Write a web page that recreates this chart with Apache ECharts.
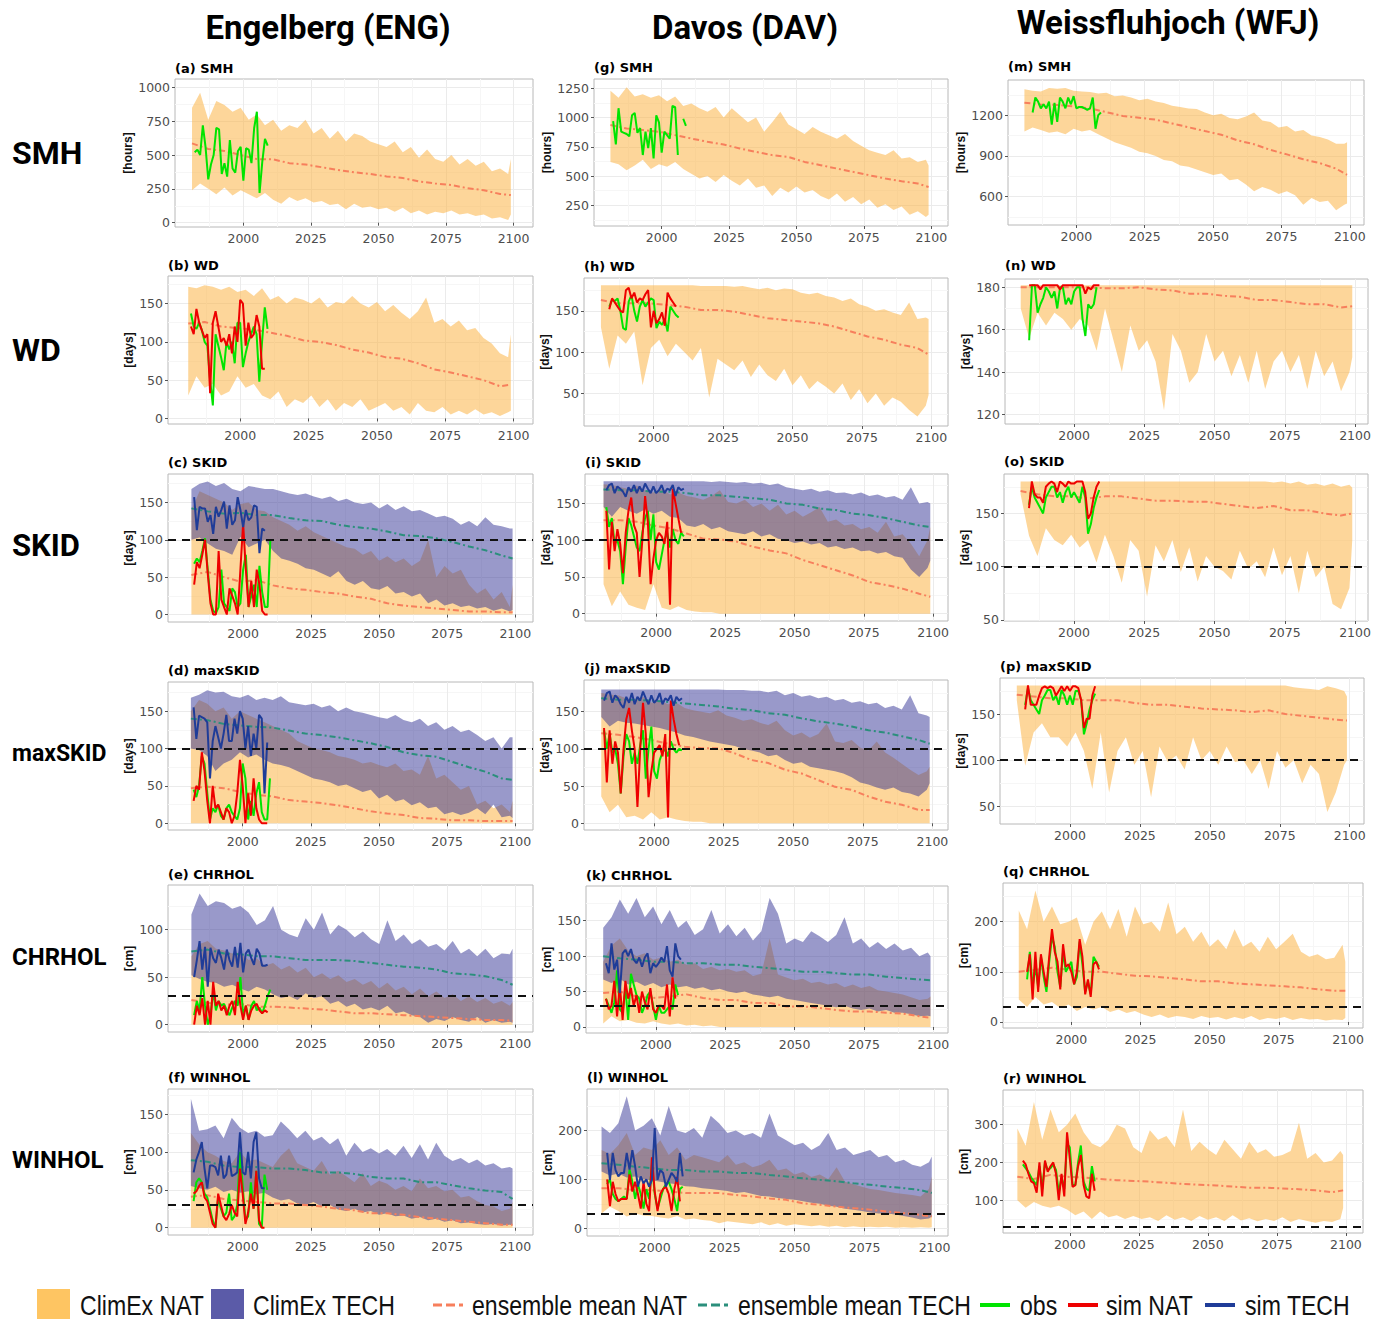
<!DOCTYPE html>
<html><head><meta charset="utf-8">
<script src="https://cdn.jsdelivr.net/npm/echarts@6/dist/echarts.min.js"></script>
<style>html,body{margin:0;padding:0;background:#fff;}#chart{width:1386px;height:1319px;}</style>
</head><body><div id="chart"></div>
<script>
// ---------- x positions (years) ----------
function yearRange(a, b, s) { const r = []; for (let y = a; y <= b; y += s) r.push(y); return r; }
const bandYears = yearRange(1981, 2098, 3).concat([2099]);   // 41 ensemble-range samples
const meanYears = yearRange(1981, 2095, 6).concat([2099]);   // 21 ensemble-mean samples
const obsStartYear = 1982;                                  // obs / sim series start
const xTickLabels = [2000, 2025, 2050, 2075, 2100];
const xMinorTicks = [1987.5, 2012.5, 2037.5, 2062.5, 2087.5];

const columnTitles = ['Engelberg (ENG)', 'Davos (DAV)', 'Weissfluhjoch (WFJ)'];
const rowLabels = ['SMH', 'WD', 'SKID', 'maxSKID', 'CHRHOL', 'WINHOL'];
const legendLabels = ['ClimEx NAT', 'ClimEx TECH', 'ensemble mean NAT', 'ensemble mean TECH', 'obs', 'sim NAT', 'sim TECH'];

// ---------- Engelberg ----------
const engSMH_natHi = [850,960,760,900,870,820,850,760,800,720,760,680,720,700,760,660,700,620,680,600,660,640,600,580,560,600,520,560,480,540,470,450,500,430,470,420,450,380,400,360,470];
const engSMH_natLo = [240,290,250,210,260,200,240,210,180,220,170,140,190,160,180,150,160,130,140,100,140,110,120,100,110,80,110,70,90,60,80,70,90,60,70,50,60,30,40,20,60];
const engSMH_natMean = [586,545,530,500,470,468,440,430,410,390,372,360,342,330,305,290,278,255,240,212,204];
const engSMH_obs = [520,540,500,720,560,320,430,500,700,690,360,440,340,610,400,370,530,560,310,550,540,440,700,820,220,450,620,570];

const engWD_natHi = [172,170,174,172,168,172,165,168,160,170,155,160,150,158,155,150,158,145,152,150,160,150,145,152,140,148,138,130,140,158,125,130,120,128,115,118,105,98,85,80,110];
const engWD_natLo = [30,55,40,45,30,35,55,40,45,30,25,35,15,25,20,30,15,25,10,20,15,25,10,15,20,10,15,5,20,10,8,15,5,10,5,12,5,8,3,8,10];
const engWD_natMean = [124,126,120,118,116,112,108,102,100,96,90,86,80,78,72,64,60,55,50,42,44];
const engWD_obs = [137,120,117,125,115,100,95,50,17,110,95,80,63,100,90,100,72,125,125,67,85,100,110,120,110,48,100,145,117];
const engWD_simNat = [120,110,143,125,115,105,110,33,125,140,120,100,105,95,110,85,120,100,155,150,95,125,105,110,135,120,65,65];

const engSKID_natHi = [140,165,160,155,150,140,148,150,140,138,130,125,120,112,118,110,105,100,95,90,88,80,85,72,78,70,75,65,72,100,50,65,55,60,40,28,35,20,30,10,40];
const engSKID_natLo = [0,0,0,0,0,0,0,0,0,0,0,0,0,0,0,0,0,0,0,0,0,0,0,0,0,0,0,0,0,0,0,0,0,0,0,0,0,0,0,0,0];
const engSKID_techHi = [168,175,178,172,176,168,165,172,170,168,168,165,162,160,162,158,155,158,152,155,150,148,150,142,148,140,145,138,140,135,130,132,128,120,125,118,130,120,118,115,115];
const engSKID_techLo = [100,103,95,88,85,80,104,90,95,100,85,75,72,68,62,60,55,50,58,45,40,45,35,33,38,28,30,24,28,15,20,12,15,10,12,8,10,5,8,4,6];
const engSKID_natMean = [53,57,50,44,46,39,35,33,30,28,24,21,15,12,10,8,6,4,4,3,3];
const engSKID_techMean = [142,138,135,136,133,133,129,126,125,120,117,115,111,106,105,102,97,91,86,79,75];
const engSKID_obs = [68,75,70,85,102,60,20,5,2,10,60,15,10,5,35,30,10,15,60,80,10,25,40,10,65,30,10,10,100];
const engSKID_simNat = [40,70,62,80,100,55,15,0,0,85,20,10,0,35,25,15,0,60,122,60,10,45,10,60,40,5,0,0];
const engSKID_simTech = [157,113,144,142,142,124,133,108,144,131,140,151,115,146,120,126,157,140,117,140,126,130,146,144,82,115,112];

const engMAX_natHi = [150,165,160,150,155,140,150,145,140,135,130,125,120,110,105,100,98,95,90,88,85,80,82,78,75,80,70,72,65,90,60,65,55,45,50,25,30,20,25,15,30];
const engMAX_natLo = [0,0,0,0,0,0,0,0,0,0,0,0,0,0,0,0,0,0,0,0,0,0,0,0,0,0,0,0,0,0,0,0,0,0,0,0,0,0,0,0,0];
const engMAX_techHi = [168,172,178,175,176,170,168,172,165,168,165,170,162,160,158,160,155,158,150,155,150,148,145,142,140,145,138,135,140,130,135,125,130,122,125,118,110,115,100,115,115];
const engMAX_techLo = [100,98,90,70,80,85,95,88,92,85,80,78,75,70,65,60,58,55,50,52,47,42,45,33,38,29,32,24,28,20,22,12,15,11,14,20,12,25,8,10,7];
const engMAX_natMean = [47,49,47,42,38,36,31,29,27,24,20,16,13,11,7,6,4,4,3,3,3];
const engMAX_techMean = [140,138,133,131,129,128,124,120,118,115,111,107,102,95,91,89,82,75,69,60,58];
const engMAX_obs = [45,35,50,90,80,40,5,20,15,25,10,5,20,25,15,10,5,20,80,60,5,30,10,40,55,15,5,5,60];
const engMAX_simNat = [30,50,45,95,70,30,0,50,20,25,15,5,20,15,0,10,40,85,50,0,40,10,60,20,5,0,0,0];
const engMAX_simTech = [155,113,144,142,140,135,60,110,130,115,100,120,145,110,110,140,120,150,140,100,130,90,120,100,145,140,40,108];

const engCHR_natHi = [72,85,88,80,78,75,76,68,70,62,65,58,62,55,60,50,54,48,52,45,48,42,46,38,44,36,40,32,38,30,35,28,32,25,30,24,28,22,25,20,24];
const engCHR_natLo = [0,0,0,0,0,0,0,0,0,0,0,0,0,0,0,0,0,0,0,0,0,0,0,0,0,0,0,0,0,0,0,0,0,0,0,0,0,0,0,0,0];
const engCHR_techHi = [116,138,125,130,128,122,125,118,105,110,125,100,95,92,112,100,118,95,105,100,92,98,90,85,110,88,95,85,90,82,85,78,88,75,80,72,80,70,75,74,80];
const engCHR_techLo = [52,48,45,44,40,42,38,35,40,37,32,28,30,26,33,28,30,22,25,19,22,16,18,15,20,12,14,10,8,2,6,4,8,5,3,8,2,5,2,3,2];
const engCHR_natMean = [26,23,21,22,19,19,18,17,16,14,12,12,11,10,9,8,7,6,5,5,4];
const engCHR_techMean = [77,79,75,74,72,72,70,68,68,68,67,65,63,61,60,58,54,53,51,47,42];
const engCHR_obs = [10,25,15,50,20,0,10,35,15,25,20,22,15,10,18,25,20,50,10,20,5,20,25,15,18,12,20,30,37];
const engCHR_simNat = [0,20,10,28,0,25,0,45,20,25,15,20,10,20,25,10,45,20,5,20,5,15,20,22,15,12,15,13];
const engCHR_simTech = [50,68,88,58,82,40,81,70,65,79,70,58,79,68,61,82,60,86,55,75,79,70,63,80,75,62,62,63];

const engWIN_natHi = [125,110,100,95,88,85,100,88,90,85,80,95,105,85,80,75,88,70,75,68,60,72,55,62,58,50,55,48,65,52,55,48,50,40,42,35,30,28,22,25,34];
const engWIN_natLo = [0,0,0,0,0,0,0,0,0,0,0,0,0,0,0,0,0,0,0,0,0,0,0,0,0,0,0,0,0,0,0,0,0,0,0,0,0,0,0,0,0];
const engWIN_techHi = [170,128,130,135,118,145,132,125,128,120,122,140,130,118,128,115,120,110,118,95,112,100,105,98,104,95,108,92,110,90,112,95,88,92,85,90,82,85,78,80,78];
const engWIN_techLo = [55,52,50,54,47,50,46,48,44,46,40,36,38,32,30,34,28,30,24,22,25,20,22,17,19,15,16,12,14,10,12,8,10,6,7,5,4,5,3,4,3];
const engWIN_natMean = [41,43,38,36,34,32,32,30,28,25,23,19,19,17,14,12,10,8,6,4,4];
const engWIN_techMean = [89,87,82,80,80,78,78,76,73,73,71,67,65,65,60,60,56,52,49,47,38];
const engWIN_obs = [35,60,65,60,45,40,25,10,0,40,25,15,20,45,10,15,30,100,55,10,15,60,25,75,5,0,70,50];
const engWIN_simNat = [45,48,55,60,40,35,20,5,0,45,30,15,10,18,30,20,15,78,45,5,20,45,25,75,10,0,0];
const engWIN_simTech = [73,90,100,113,78,52,82,82,80,69,95,65,70,95,68,70,73,126,73,70,100,65,113,126,65,52,52];

// ---------- Davos ----------
const davSMH_natHi = [1230,1170,1260,1180,1200,1170,1190,1140,1180,1100,1120,1080,1050,1090,1000,1080,1020,960,1000,880,960,1050,940,900,860,920,880,850,820,860,800,760,720,700,680,720,650,660,620,640,590];
const davSMH_natLo = [620,600,550,590,640,560,600,580,620,560,520,480,500,450,510,460,420,480,400,420,330,400,360,410,360,380,330,300,350,280,320,260,300,230,260,210,240,170,200,150,170];
const davSMH_natMean = [936,907,893,879,850,821,793,770,736,707,679,664,621,593,564,536,507,479,456,436,407];
const davSMH_obs = [970,770,1080,880,870,860,840,1020,1040,870,910,680,880,740,910,650,1020,960,700,880,850,820,1100,1090,680,null,990,930];

const davWD_natHi = [181,181,181,181,181,181,181,181,181,181,181,181,180,180,180,180,179,180,178,176,178,175,177,176,172,170,172,168,166,162,165,158,155,150,152,148,145,160,140,142,140];
const davWD_natLo = [130,80,120,110,125,60,105,115,95,110,100,90,105,45,92,85,78,90,70,85,72,65,80,60,72,55,65,58,50,62,42,55,38,50,35,45,40,30,22,35,48];
const davWD_natMean = [163,159,159,159,157,155,151,151,149,145,141,139,137,135,131,125,119,115,109,105,97];
const davWD_obs = [null,null,155,163,162,165,150,129,127,161,169,150,137,155,163,155,160,165,163,129,137,133,140,125,155,150,145,142];
const davWD_simNat = [null,null,152,165,160,155,150,148,175,178,165,172,160,165,163,170,175,130,150,135,140,148,132,172,165,160,155];

const davSKID_natHi = [176,175,172,170,174,168,165,170,162,165,160,158,155,160,168,152,150,155,145,150,140,148,135,140,132,138,145,125,128,120,122,115,118,110,125,105,108,95,78,100,118];
const davSKID_natLo = [40,10,30,12,8,5,40,8,5,10,5,3,2,2,0,0,0,0,0,0,0,0,0,0,0,0,0,0,0,0,0,0,0,0,0,0,0,0,0,0,0];
const davSKID_techHi = [180,180,180,180,180,180,180,180,180,180,180,180,180,179,180,179,178,179,177,178,175,177,172,170,168,170,166,168,164,165,162,165,160,162,158,160,155,172,150,152,150];
const davSKID_techLo = [145,132,145,140,136,142,136,140,132,130,120,118,122,115,118,112,110,108,112,105,108,102,100,96,98,94,96,90,92,88,90,85,86,82,84,78,76,60,50,62,72];
const davSKID_natMean = [127,127,125,120,116,109,102,101,98,91,86,82,73,66,59,52,43,39,34,27,23];
const davSKID_techMean = [169,168,168,166,166,164,161,161,159,157,155,150,148,143,141,136,134,130,125,120,118];
const davSKID_obs = [145,118,130,95,100,85,40,90,130,120,105,90,85,110,130,140,100,135,70,60,80,100,110,90,115,100,95,110,105];
const davSKID_simNat = [140,60,125,85,115,95,55,110,140,158,120,110,50,100,160,125,40,75,100,110,105,95,125,12,170,150,130,110];
const davSKID_simTech = [168,175,177,164,173,170,166,159,172,166,175,164,173,166,177,170,164,173,164,168,175,164,170,168,175,160,172,168,170];

const davMAX_natHi = [175,173,172,168,166,170,162,165,160,162,155,152,150,148,152,145,142,138,140,135,132,138,125,118,122,115,120,134,110,108,112,102,98,110,95,88,80,72,65,70,76];
const davMAX_natLo = [36,15,25,8,10,5,15,5,8,5,3,2,2,0,0,0,0,0,0,0,0,0,0,0,0,0,0,0,0,0,0,0,0,0,0,0,0,0,0,0,0];
const davMAX_techHi = [180,180,180,180,180,180,180,180,180,180,180,180,180,180,180,179,179,179,178,178,176,178,172,175,170,172,168,170,165,167,162,164,160,162,155,158,153,172,148,145,143];
const davMAX_techLo = [143,130,138,135,134,132,130,128,125,122,118,116,113,110,108,106,104,100,98,95,90,92,85,80,82,76,74,72,70,67,62,55,52,48,45,48,42,40,36,45,54];
const davMAX_natMean = [121,119,116,112,107,103,101,101,94,85,81,72,67,58,49,45,36,29,25,18,18];
const davMAX_techMean = [168,166,166,165,163,161,159,157,154,152,148,146,141,137,134,130,125,122,117,112,107];
const davMAX_obs = [125,100,120,95,100,80,40,90,120,110,80,95,80,105,125,60,100,130,70,60,85,95,100,90,110,100,95,100,98];
const davMAX_simNat = [128,55,125,80,110,95,40,100,140,155,125,100,22,100,162,120,35,70,95,100,105,90,120,8,165,140,120,105];
const davMAX_simTech = [165,175,177,162,172,168,160,155,170,162,175,160,170,165,177,168,160,172,162,166,175,160,168,165,172,158,170,165,168];

const davCHR_natHi = [92,115,125,108,100,104,95,98,92,95,88,90,82,85,80,82,78,80,72,75,125,74,70,66,68,62,64,60,62,56,60,55,58,52,50,48,46,42,38,40,43];
const davCHR_natLo = [5,15,8,10,6,5,8,5,3,5,2,3,1,2,0,0,0,0,0,0,0,0,0,0,0,0,0,0,0,0,0,0,0,0,0,0,0,0,0,0,0];
const davCHR_techHi = [140,155,180,160,182,155,170,145,165,140,150,130,138,165,132,145,128,140,122,135,182,160,118,125,120,135,128,120,130,155,118,125,112,120,110,118,108,112,100,105,100];
const davCHR_techLo = [67,62,68,60,64,58,62,56,60,56,58,54,56,52,54,50,48,50,46,44,42,44,40,38,36,34,32,30,28,30,26,24,26,22,24,20,20,18,15,16,15];
const davCHR_natMean = [48,50,43,41,43,46,41,38,38,34,34,29,29,27,24,22,22,20,19,15,13];
const davCHR_techMean = [100,97,95,92,92,90,90,88,88,85,83,81,78,78,76,74,74,71,69,67,66];
const davCHR_obs = [40,30,20,35,80,25,20,55,10,75,60,45,40,20,30,45,50,30,10,30,20,20,25,30,25,60,45];
const davCHR_simNat = [40,25,30,65,15,60,10,65,40,55,30,45,20,50,35,25,55,25,20,30,30,25,60,15,70,40];
const davCHR_simTech = [90,76,118,81,95,48,104,109,100,110,95,90,98,85,98,104,76,90,85,90,98,92,114,80,71,118,100,95];

const davWIN_natHi = [160,152,170,195,150,165,160,180,150,165,140,150,145,140,135,150,130,135,125,130,140,118,122,110,115,105,110,100,125,95,90,85,80,78,75,72,70,68,65,80,106];
const davWIN_natLo = [30,44,35,24,30,26,25,22,20,25,18,20,17,15,10,14,12,10,8,12,6,10,5,8,6,4,6,3,5,2,4,2,3,2,3,1,2,1,2,1,2];
const davWIN_techHi = [208,195,215,270,200,210,225,190,250,200,195,205,185,230,215,195,200,190,195,185,235,190,180,170,175,160,170,195,160,165,150,155,160,145,150,135,140,130,126,135,147];
const davWIN_techLo = [116,108,112,104,106,100,98,95,92,90,86,85,82,80,78,76,72,74,70,66,65,62,60,58,55,52,50,46,44,40,38,35,32,30,30,28,25,22,18,20,24];
const davWIN_natMean = [82,82,78,78,75,72,72,72,68,65,61,58,51,48,44,41,38,34,31,27,24];
const davWIN_techMean = [133,130,126,123,119,119,116,116,113,113,109,106,102,99,96,92,89,85,82,78,72];
const davWIN_obs = [null,90,100,70,60,55,60,65,60,120,95,60,90,70,40,80,60,130,70,40,60,80,90,95,80,60,35,80,85];
const davWIN_simNat = [null,100,45,95,70,55,60,60,60,110,75,95,70,40,95,50,35,145,75,35,70,80,85,70,35,80,105,55];
const davWIN_simTech = [null,154,99,154,119,106,113,113,154,120,160,126,85,106,92,100,85,99,205,99,119,113,85,99,113,106,95,154,106];

// ---------- Weissfluhjoch ----------
const wfjSMH_natHi = [1390,1380,1375,1400,1395,1400,1380,1375,1370,1360,1365,1340,1345,1330,1310,1320,1300,1290,1270,1260,1250,1245,1220,1200,1210,1180,1170,1190,1220,1160,1150,1110,1120,1080,1090,1050,1040,1020,990,990,1000];
const wfjSMH_natLo = [1080,1110,1090,1070,1080,1060,1100,1080,1090,1060,1030,1000,980,960,930,920,900,870,860,830,820,800,780,760,770,720,730,690,640,670,650,620,640,610,540,590,560,570,500,540,550];
const wfjSMH_natMean = [1292,1278,1275,1264,1250,1222,1194,1181,1167,1139,1111,1083,1056,1014,986,944,911,875,847,806,760];
const wfjSMH_obs = [null,null,1220,1330,1300,1250,1280,1250,1300,1130,1290,1150,1330,1300,1250,1330,1280,1340,1250,1260,1260,1250,1240,1250,1330,1100,1200,1220];

const wfjWD_natHi = [181,181,181,181,181,181,181,181,181,181,181,181,181,181,181,181,181,181,181,181,181,181,181,181,181,181,181,181,181,181,181,181,181,181,181,181,181,181,181,181,181];
const wfjWD_natLo = [170,156,168,162,168,165,160,165,162,150,170,155,140,162,150,155,145,122,158,150,135,140,158,145,150,138,148,135,150,132,145,150,140,148,132,150,138,145,131,140,147];
const wfjWD_natMean = [180,180,180,180,180,179.5,179.5,180,179,178.5,177,177,176,175.5,174,174,173,172,172,170.5,171];
const wfjWD_obs = [null,null,155,181,181,168,172,175,180,178,175,178,170,180,180,172,175,172,178,180,180,165,157,172,170,172,180];
const wfjWD_simNat = [null,null,181,181,181,181,179,181,181,181,181,181,181,179,181,181,181,181,181,181,181,181,177,180,179,181,181,181];

const wfjSKID_natHi = [180,180,180,180,180,180,180,180,180,180,180,180,180,180,180,180,180,180,180,180,180,180,180,180,180,180,180,180,180,180,179,180,178,180,177,178,176,178,175,177,174];
const wfjSKID_natLo = [168,129,110,136,125,120,130,118,125,104,130,110,85,125,115,72,120,105,125,95,118,86,110,100,96,88,115,98,105,90,118,92,110,75,115,90,100,65,60,80,125];
const wfjSKID_natMean = [171,168,166,166,164,166,166,164,162,162,161,161,159,157,155,157,153,153,150,148,150];
const wfjSKID_obs = [null,null,158,175,165,160,155,150,165,170,175,175,165,170,160,170,175,165,170,165,160,175,165,131,140,155,165,172];
const wfjSKID_simNat = [null,null,155,180,168,165,165,160,175,178,180,178,170,180,178,175,180,178,178,180,180,180,170,145,150,165,175,180];

const wfjMAX_natHi = [181,181,181,181,181,181,181,181,181,181,181,181,181,181,181,181,181,181,181,181,181,181,181,181,181,181,181,181,181,181,181,181,181,179,178,177,176,180,178,175,169];
const wfjMAX_natLo = [165,94,130,140,125,125,115,130,110,69,130,65,110,125,95,110,60,115,98,105,90,125,100,110,95,115,98,100,85,100,69,110,92,100,75,95,85,44,65,95,100];
const wfjMAX_natMean = [171,169,167,167,165,165,165,162,160,160,158,156,155,154,152,154,150,148,146,144,143];
const wfjMAX_obs = [null,null,160,178,165,160,155,150,165,170,176,176,165,170,160,176,170,160,170,160,175,175,165,128,140,155,165,172];
const wfjMAX_simNat = [null,null,155,181,160,160,160,170,178,180,178,180,178,170,175,180,175,180,175,180,180,178,165,135,145,145,170,180];

const wfjCHR_natHi = [222,185,262,200,230,195,200,208,154,200,220,185,225,170,230,195,200,180,238,175,190,160,180,150,165,145,185,150,160,140,170,145,160,176,140,130,135,125,128,154,120];
const wfjCHR_natLo = [45,30,50,35,40,28,35,22,30,25,30,20,25,18,22,15,10,15,8,12,10,6,12,8,10,5,10,6,12,4,8,6,10,4,8,5,6,3,5,4,8];
const wfjCHR_natMean = [100,104,108,104,100,100,96,92,91,88,85,81,81,77,75,73,71,69,65,62,62];
const wfjCHR_obs = [null,null,85,140,70,110,70,130,90,60,120,170,150,100,70,140,100,110,120,75,90,160,115,60,80,55,130,120,110];
const wfjCHR_simNat = [null,null,100,135,45,140,60,135,100,70,130,185,140,120,65,155,110,115,100,75,100,165,130,55,85,50,115,120,105];

const wfjWIN_natHi = [290,244,360,260,340,280,300,330,280,250,240,260,300,290,240,225,285,260,270,240,340,230,255,235,220,260,235,210,255,225,235,215,220,230,305,210,225,200,205,230,220];
const wfjWIN_natLo = [100,80,95,85,80,85,75,60,70,50,70,55,60,50,58,50,55,45,60,48,55,45,58,48,55,45,60,46,52,44,50,45,55,42,50,45,40,45,42,50,79];
const wfjWIN_natMean = [162,156,167,162,160,156,153,151,149,146,143,141,139,136,133,133,131,129,126,121,126];
const wfjWIN_obs = [null,195,185,175,160,150,140,190,130,200,180,185,195,180,120,160,130,250,240,140,140,200,245,150,130,125,190,150];
const wfjWIN_simNat = [null,205,195,170,150,145,120,200,110,205,175,190,200,170,100,170,110,280,210,135,140,190,220,140,110,105,170,125];

// ---------- panel layout (pixels) + data wiring ----------
const panels = [
 {t:'(a) SMH', u:'[hours]', r:[175,79,533,227], x:[1974.7,2107.2], y:[-32,1062], yt:[0,250,500,750,1000], ty:68, nx:131,
  nat:[engSMH_natLo, engSMH_natHi], natMean:engSMH_natMean, obs:engSMH_obs},
 {t:'(b) WD', u:'[days]', r:[168,276,533,424], x:[1973.6,2107.1], y:[-7.3,186], yt:[0,50,100,150], ty:265, nx:131,
  nat:[engWD_natLo, engWD_natHi], natMean:engWD_natMean, obs:engWD_obs, simNat:engWD_simNat},
 {t:'(c) SKID', u:'[days]', r:[168,474,533,622], x:[1972.4,2106.5], y:[-10,188], yt:[0,50,100,150], ty:462, nx:131, thr:100,
  nat:[engSKID_natLo, engSKID_natHi], tech:[engSKID_techLo, engSKID_techHi], natMean:engSKID_natMean, techMean:engSKID_techMean, obs:engSKID_obs, simNat:engSKID_simNat, simTech:engSKID_simTech},
 {t:'(d) maxSKID', u:'[days]', r:[168,682,533,830], x:[1972.6,2106.5], y:[-9,189], yt:[0,50,100,150], ty:670, nx:131, thr:100,
  nat:[engMAX_natLo, engMAX_natHi], tech:[engMAX_techLo, engMAX_techHi], natMean:engMAX_natMean, techMean:engMAX_techMean, obs:engMAX_obs, simNat:engMAX_simNat, simTech:engMAX_simTech},
 {t:'(e) CHRHOL', u:'[cm]', r:[168,885,533,1032], x:[1972.4,2106.5], y:[-7.7,147], yt:[0,50,100], ty:874, nx:131, thr:30,
  nat:[engCHR_natLo, engCHR_natHi], tech:[engCHR_techLo, engCHR_techHi], natMean:engCHR_natMean, techMean:engCHR_techMean, obs:engCHR_obs, simNat:engCHR_simNat, simTech:engCHR_simTech},
 {t:'(f) WINHOL', u:'[cm]', r:[168,1089,533,1235], x:[1972.6,2106.5], y:[-9.6,183], yt:[0,50,100,150], ty:1077, nx:131, thr:30,
  nat:[engWIN_natLo, engWIN_natHi], tech:[engWIN_techLo, engWIN_techHi], natMean:engWIN_natMean, techMean:engWIN_techMean, obs:engWIN_obs, simNat:engWIN_simNat, simTech:engWIN_simTech},

 {t:'(g) SMH', u:'[hours]', r:[594,79,948,226], x:[1974.9,2106.2], y:[73,1330], yt:[250,500,750,1000,1250], ty:67, nx:550,
  nat:[davSMH_natLo, davSMH_natHi], natMean:davSMH_natMean, obs:davSMH_obs},
 {t:'(h) WD', u:'[days]', r:[584,278,948,426], x:[1974.9,2106.0], y:[10.6,189.7], yt:[50,100,150], ty:266, nx:547,
  nat:[davWD_natLo, davWD_natHi], natMean:davWD_natMean, obs:davWD_obs, simNat:davWD_simNat},
 {t:'(i) SKID', u:'[days]', r:[585,474,948,621], x:[1974.3,2105.4], y:[-10,190], yt:[0,50,100,150], ty:462, nx:547, thr:100,
  nat:[davSKID_natLo, davSKID_natHi], tech:[davSKID_techLo, davSKID_techHi], natMean:davSKID_natMean, techMean:davSKID_techMean, obs:davSKID_obs, simNat:davSKID_simNat, simTech:davSKID_simTech},
 {t:'(j) maxSKID', u:'[days]', r:[584,680,948,830], x:[1974.8,2105.6], y:[-9,192.6], yt:[0,50,100,150], ty:668, nx:547, thr:100,
  nat:[davMAX_natLo, davMAX_natHi], tech:[davMAX_techLo, davMAX_techHi], natMean:davMAX_natMean, techMean:davMAX_techMean, obs:davMAX_obs, simNat:davMAX_simNat, simTech:davMAX_simTech},
 {t:'(k) CHRHOL', u:'[cm]', r:[586,886,948,1033], x:[1974.8,2105.3], y:[-8.5,199], yt:[0,50,100,150], ty:875, nx:548, thr:30,
  nat:[davCHR_natLo, davCHR_natHi], tech:[davCHR_techLo, davCHR_techHi], natMean:davCHR_natMean, techMean:davCHR_techMean, obs:davCHR_obs, simNat:davCHR_simNat, simTech:davCHR_simTech},
 {t:'(l) WINHOL', u:'[cm]', r:[587,1089,948,1236], x:[1975.8,2104.8], y:[-16,285], yt:[0,100,200], ty:1077, nx:548, thr:30,
  nat:[davWIN_natLo, davWIN_natHi], tech:[davWIN_techLo, davWIN_techHi], natMean:davWIN_natMean, techMean:davWIN_techMean, obs:davWIN_obs, simNat:davWIN_simNat, simTech:davWIN_simTech},

 {t:'(m) SMH', u:'[hours]', r:[1008,80,1364,225], x:[1975.0,2105.2], y:[391,1459], yt:[600,900,1200], ty:66, nx:964,
  nat:[wfjSMH_natLo, wfjSMH_natHi], natMean:wfjSMH_natMean, obs:wfjSMH_obs},
 {t:'(n) WD', u:'[days]', r:[1005,279,1368,424], x:[1975.4,2104.6], y:[115.5,183.9], yt:[120,140,160,180], ty:265, nx:966,
  nat:[wfjWD_natLo, wfjWD_natHi], natMean:wfjWD_natMean, obs:wfjWD_obs, simNat:wfjWD_simNat},
 {t:'(o) SKID', u:'[days]', r:[1004,474,1368,621], x:[1975.1,2104.6], y:[49,187], yt:[50,100,150], ty:461, nx:966, thr:100,
  nat:[wfjSKID_natLo, wfjSKID_natHi], natMean:wfjSKID_natMean, obs:wfjSKID_obs, simNat:wfjSKID_simNat},
 {t:'(p) maxSKID', u:'[days]', r:[1000,678,1364,824], x:[1975.0,2105.1], y:[31,189], yt:[50,100,150], ty:666, nx:964, thr:100,
  nat:[wfjMAX_natLo, wfjMAX_natHi], natMean:wfjMAX_natMean, obs:wfjMAX_obs, simNat:wfjMAX_simNat},
 {t:'(q) CHRHOL', u:'[cm]', r:[1003,883,1363,1028], x:[1975.3,2105.4], y:[-12,277], yt:[0,100,200], ty:871, nx:968, thr:30,
  nat:[wfjCHR_natLo, wfjCHR_natHi], natMean:wfjCHR_natMean, obs:wfjCHR_obs, simNat:wfjCHR_simNat},
 {t:'(r) WINHOL', u:'[cm]', r:[1003,1090,1363,1233], x:[1975.8,2106.2], y:[13,392], yt:[100,200,300], ty:1078, nx:967, thr:30,
  nat:[wfjWIN_natLo, wfjWIN_natHi], natMean:wfjWIN_natMean, obs:wfjWIN_obs, simNat:wfjWIN_simNat}
];

// ---------- styles ----------
const C = {
  nat: 'rgba(251,180,71,0.55)', tech: 'rgba(42,42,145,0.48)',
  natMean: '#f77f5c', techMean: '#2b8f7c',
  obs: '#00e400', simNat: '#ee0000', simTech: '#1f3c98',
  grid: '#ebebeb', gridMinor: '#f6f6f6', border: '#b8b8b8', tick: '#4d4d4d'
};
const tickFont = {fontFamily: 'DejaVu Sans', fontSize: 12.5, color: C.tick, formatter: v => String(v)};

const grid = [], xAxis = [], yAxis = [], series = [], graphic = [];

function minorOf(ticks, lo, hi) {
  const step = ticks.length > 1 ? ticks[1] - ticks[0] : 0, out = [];
  const cand = [ticks[0] - step / 2];
  for (let k = 0; k < ticks.length - 1; k++) cand.push((ticks[k] + ticks[k + 1]) / 2);
  cand.push(ticks[ticks.length - 1] + step / 2);
  cand.forEach(v => { if (v > lo && v < hi) out.push(v); });
  return out;
}

// ribbon between two value arrays, drawn with the axis scales (api.coord)
function ribbon(i, lo, hi, fill) {
  return {type: 'custom', xAxisIndex: 2 * i, yAxisIndex: 2 * i, silent: true, z: 1, animation: false, clip: true,
    data: bandYears.map((y, k) => [y, lo[k], hi[k]]),
    encode: {x: 0, y: [1, 2]},
    renderItem: function (params, api) {
      if (params.dataIndex !== 0) return null;
      const up = [], dn = [];
      for (let k = 0; k < bandYears.length; k++) {
        up.push(api.coord([bandYears[k], hi[k]]));
        dn.push(api.coord([bandYears[k], lo[k]]));
      }
      return {type: 'polygon', shape: {points: up.concat(dn.reverse())}, style: {fill: fill, stroke: null}};
    }};
}

panels.forEach((p, i) => {
  grid.push({left: p.r[0], top: p.r[1], width: p.r[2] - p.r[0], height: p.r[3] - p.r[1],
    show: true, borderColor: C.border, borderWidth: 1, backgroundColor: '#fff'});
  const xi = 2 * i, yi = 2 * i;
  xAxis.push({type: 'value', gridIndex: i, min: p.x[0], max: p.x[1], position: 'bottom',
    axisLine: {show: false},
    axisTick: {show: true, length: 3, customValues: xTickLabels, lineStyle: {color: '#555'}},
    axisLabel: Object.assign({customValues: xTickLabels, margin: 5}, tickFont),
    splitLine: {show: true, lineStyle: {color: C.grid, width: 1}}});
  xAxis.push({type: 'value', gridIndex: i, min: p.x[0], max: p.x[1], position: 'top',
    axisLine: {show: false}, axisTick: {show: false, customValues: xMinorTicks},
    axisLabel: {show: false, customValues: xMinorTicks},
    splitLine: {show: true, lineStyle: {color: C.gridMinor, width: 1}}});
  yAxis.push({type: 'value', gridIndex: i, min: p.y[0], max: p.y[1], position: 'left',
    axisLine: {show: false},
    axisTick: {show: true, length: 3, customValues: p.yt, lineStyle: {color: '#555'}},
    axisLabel: Object.assign({customValues: p.yt, margin: 5}, tickFont),
    splitLine: {show: true, lineStyle: {color: C.grid, width: 1}},
    name: p.u, nameLocation: 'middle', nameRotate: 90, nameGap: p.r[0] - p.nx - 6,
    nameTextStyle: {fontFamily: 'Liberation Sans', fontWeight: 'bold', fontSize: 12, color: '#111'}});
  const ym = minorOf(p.yt, p.y[0], p.y[1]);
  yAxis.push({type: 'value', gridIndex: i, min: p.y[0], max: p.y[1], position: 'right',
    axisLine: {show: false}, axisTick: {show: false, customValues: ym},
    axisLabel: {show: false, customValues: ym},
    splitLine: {show: true, lineStyle: {color: C.gridMinor, width: 1}}});

  const base = {type: 'line', xAxisIndex: xi, yAxisIndex: yi, symbol: 'none', silent: true, animation: false};
  series.push(ribbon(i, p.nat[0], p.nat[1], C.nat));
  if (p.tech) series.push(ribbon(i, p.tech[0], p.tech[1], C.tech));

  const dash = [6, 3, 2, 3];
  const nm = Object.assign({}, base, {z: 3, lineStyle: {color: C.natMean, width: 2, type: dash},
    data: meanYears.map((y, k) => [y, p.natMean[k]])});
  if (p.thr !== undefined) {
    nm.markLine = {silent: true, symbol: ['none', 'none'], label: {show: false}, animation: false,
      lineStyle: {color: '#111', width: 2, type: [8, 6]}, data: [{yAxis: p.thr}]};
  }
  series.push(nm);
  if (p.techMean) series.push(Object.assign({}, base, {z: 3, lineStyle: {color: C.techMean, width: 2, type: dash},
    data: meanYears.map((y, k) => [y, p.techMean[k]])}));
  function obsLine(vals, color) {
    series.push(Object.assign({}, base, {z: 4, connectNulls: false, lineStyle: {color: color, width: 2},
      data: vals.map((v, k) => [obsStartYear + k, v])}));
  }
  obsLine(p.obs, C.obs);
  if (p.simNat) obsLine(p.simNat, C.simNat);
  if (p.simTech) obsLine(p.simTech, C.simTech);

  graphic.push({type: 'text', x: p.r[0], y: p.ty, silent: true,
    style: {text: p.t, font: 'bold 13px "DejaVu Sans"', fill: '#000', align: 'left', verticalAlign: 'middle', textAlign: 'left', textVerticalAlign: 'middle'}});
});

// column titles
const colX = [328, 745, 1168], colY = [27, 27, 22];
columnTitles.forEach((t, k) => graphic.push({type: 'text', x: colX[k], y: colY[k], silent: true,
  style: {text: t, font: 'bold 33px Roboto', fill: '#000', align: 'center', verticalAlign: 'middle', textAlign: 'center', textVerticalAlign: 'middle'}}));
// row labels
const rowY = [153, 350, 545, 753, 957, 1160], rowSize = [32, 32, 31, 23, 24, 24];
rowLabels.forEach((t, k) => graphic.push({type: 'text', x: 12, y: rowY[k], silent: true,
  style: {text: t, font: 'bold ' + rowSize[k] + 'px Roboto', fill: '#000', align: 'left', verticalAlign: 'middle', textAlign: 'left', textVerticalAlign: 'middle'}}));

// legend (narrow sans emulated with a horizontal scale)
const LY = 1305, lf = '27px "Liberation Sans", Arial, sans-serif';
function ltext(t, x) { graphic.push({type: 'text', x: x, y: LY, scaleX: 0.855, silent: true,
  style: {text: t, font: lf, fill: '#111', align: 'left', verticalAlign: 'middle', textAlign: 'left', textVerticalAlign: 'middle'}}); }
graphic.push({type: 'rect', shape: {x: 37, y: 1289, width: 33, height: 32}, style: {fill: '#fec562'}, silent: true});
ltext(legendLabels[0], 80);
graphic.push({type: 'rect', shape: {x: 211, y: 1289, width: 33, height: 32}, style: {fill: '#5b5ba8'}, silent: true});
ltext(legendLabels[1], 253);
graphic.push({type: 'line', shape: {x1: 433, y1: LY, x2: 463, y2: LY}, style: {stroke: C.natMean, lineWidth: 3, lineDash: [9, 4]}, silent: true});
ltext(legendLabels[2], 472);
graphic.push({type: 'line', shape: {x1: 698, y1: LY, x2: 728, y2: LY}, style: {stroke: C.techMean, lineWidth: 3, lineDash: [9, 4]}, silent: true});
ltext(legendLabels[3], 738);
graphic.push({type: 'line', shape: {x1: 980, y1: LY, x2: 1010, y2: LY}, style: {stroke: C.obs, lineWidth: 4}, silent: true});
ltext(legendLabels[4], 1020);
graphic.push({type: 'line', shape: {x1: 1068, y1: LY, x2: 1098, y2: LY}, style: {stroke: C.simNat, lineWidth: 4}, silent: true});
ltext(legendLabels[5], 1106);
graphic.push({type: 'line', shape: {x1: 1205, y1: LY, x2: 1235, y2: LY}, style: {stroke: C.simTech, lineWidth: 4}, silent: true});
ltext(legendLabels[6], 1245);

const chart = echarts.init(document.getElementById('chart'), null, {renderer: 'svg', width: 1386, height: 1319});
chart.setOption({animation: false, backgroundColor: '#fff', grid, xAxis, yAxis, series, graphic});
</script></body></html>
